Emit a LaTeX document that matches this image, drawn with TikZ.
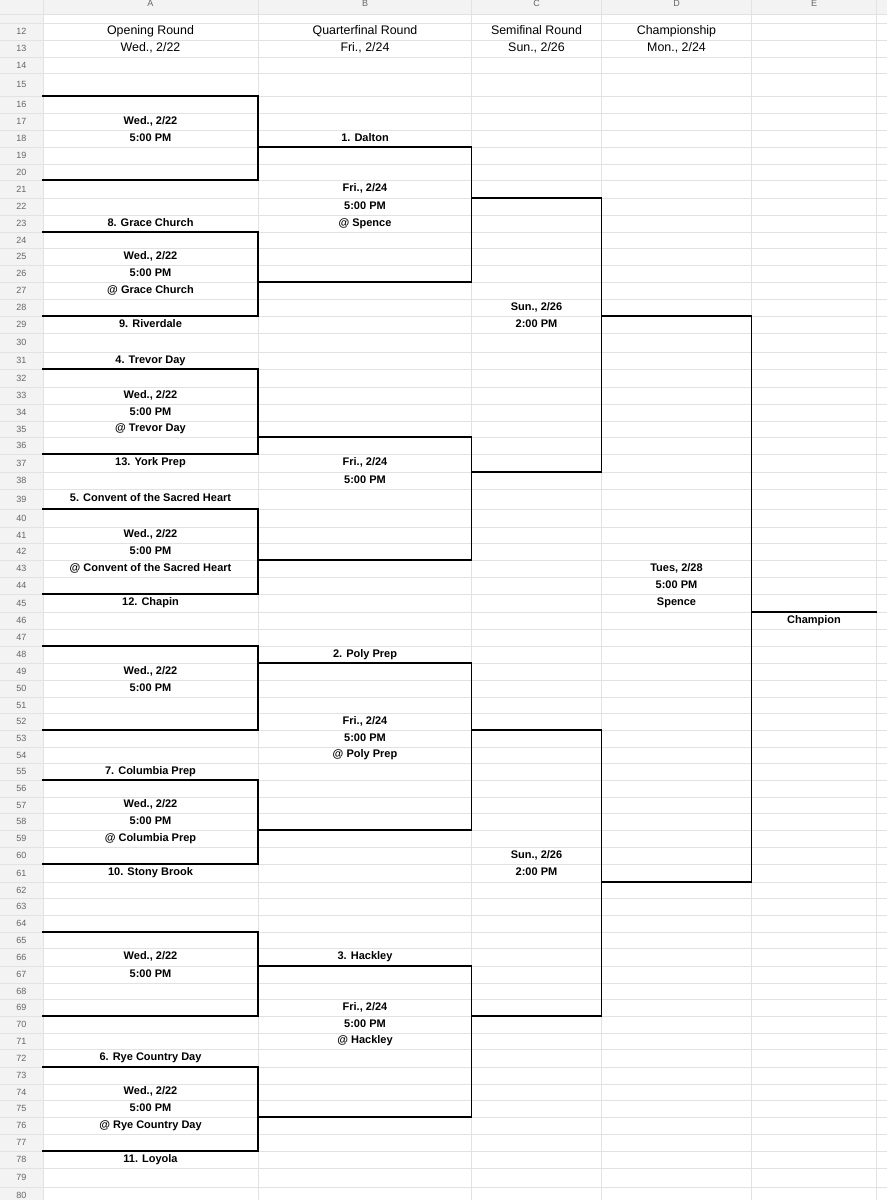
\documentclass[tikz,border=0pt]{standalone}
\usepackage{fontspec}
\setmainfont{Liberation Sans}
\usetikzlibrary{calc}
\definecolor{grid}{HTML}{E2E2E2}
\definecolor{hdr}{HTML}{F3F3F3}
\definecolor{num}{HTML}{666666}
\begin{document}
\begin{tikzpicture}[x=1pt,y=-1pt,
  br/.style={line width=1.7pt,line cap=rect},
  gl/.style={grid,line width=0.9pt},
  lbl/.style={font=\fontsize{11}{12}\selectfont\bfseries,inner sep=0pt,text height=8pt,text depth=2.2pt},
  head/.style={font=\fontsize{12.4}{13}\selectfont,inner sep=0pt,text height=9pt,text depth=2.5pt},
  rn/.style={font=\fontsize{9}{10}\selectfont,text=num,inner sep=0pt,text height=6.5pt,text depth=0pt}]
\useasboundingbox (0,0) rectangle (887,1200);
\fill[white] (0,0) rectangle (887,1200);
% columns
\coordinate (cR) at (0,0);
\coordinate (cA) at (43,0);
\coordinate (cB) at (258,0);
\coordinate (cC) at (471.5,0);
\coordinate (cD) at (601.5,0);
\coordinate (cE) at (751.5,0);
\coordinate (cF) at (876,0);
\coordinate (xA) at (150.5,0);
\coordinate (xB) at (365,0);
\coordinate (xC) at (536.5,0);
\coordinate (xD) at (676.5,0);
\coordinate (xE) at (814,0);
% header backgrounds
\fill[hdr] (0,0) rectangle (887,14);
\fill[hdr] (0,0) rectangle (43,1200);
% rows
\foreach \k/\t/\c in {12/23/31.5,13/40/48.5,14/57/65,15/73/84.5,16/96/104.5,17/113/121.5,18/130/138.5,19/147/155.5,20/164/172,21/180/189,22/198/206.5,23/215/223.5,24/232/240,25/248/256.5,26/265/273.5,27/282/290.5,28/299/307.5,29/316/324.5,30/333/342.5,31/352/360.5,32/369/378,33/387/395.5,34/404/412.5,35/421/429,36/437/445.5,37/454/463,38/472/480.5,39/489/499,40/509/518,41/527/535,42/543/551.5,43/560/568.5,44/577/585.5,45/594/603,46/612/620.5,47/629/637.5,48/646/654.5,49/663/671.5,50/680/688.5,51/697/705,52/713/721.5,53/730/738.5,54/747/755,55/763/771.5,56/780/788.5,57/797/805,58/813/821.5,59/830/838.5,60/847/855.5,61/864/873,62/882/890,63/898/906.5,64/915/923.5,65/932/940,66/948/957,67/966/974.5,68/983/991,69/999/1007.5,70/1016/1024.5,71/1033/1041,72/1049/1058,73/1067/1075.5,74/1084/1092,75/1100/1108.5,76/1117/1125.5,77/1134/1142.5,78/1151/1159.5,79/1168/1177.5,80/1187/1195.5}{
  \coordinate (r\k) at (0,\t);
  \coordinate (m\k) at (0,\c);
  \draw[gl] (0,\t) -- (887,\t);
  \node[rn] (n\k) at (21.5,\c) {\k};
}
\coordinate (r81) at (0,1204);
\draw[gl] (0,14) -- (887,14);
\foreach \x in {43,258,471.5,601.5,751.5,876} \draw[gl] (\x,0) -- (\x,1200);
% column letters
\foreach \p/\l in {xA/A,xB/B,xC/C,xD/D,xE/E} \node[rn] at ($(\p)+(0,3)$) {\l};
% headings
\node[head] (h1) at (xA |- m12) {Opening Round};
\node[head] (h2) at (xB |- m12) {Quarterfinal Round};
\node[head] (h3) at (xC |- m12) {Semifinal Round};
\node[head] (h4) at (xD |- m12) {Championship};
\node[head] (d1) at (xA |- m13) {Wed., 2/22};
\node[head] (d2) at (xB |- m13) {Fri., 2/24};
\node[head] (d3) at (xC |- m13) {Sun., 2/26};
\node[head] (d4) at (xD |- m13) {Mon., 2/24};
% brackets
\foreach \a/\b in {16/21,24/29,32/37,40/45,48/53,56/61,65/70,73/78}
  \draw[br] (cA |- r\a) -| (cB |- r\b) -- (cA |- r\b);
\foreach \a/\b in {19/27,36/43,49/59,67/76}
  \draw[br] (cB |- r\a) -| (cC |- r\b) -- (cB |- r\b);
\foreach \a/\b in {22/38,53/70}
  \draw[br] (cC |- r\a) -| (cD |- r\b) -- (cC |- r\b);
\draw[br] (cD |- r29) -| (cE |- r62) -- (cD |- r62);
\draw[br] (cE |- r46) -- (cF |- r46);
% labels
\foreach \p/\r/\t in {
 xA/17/{Wed., 2/22},xA/18/{5:00 PM},
 xA/23/{8. Grace Church},xA/25/{Wed., 2/22},xA/26/{5:00 PM},xA/27/{@ Grace Church},xA/29/{9. Riverdale},
 xA/31/{4. Trevor Day},xA/33/{Wed., 2/22},xA/34/{5:00 PM},xA/35/{@ Trevor Day},xA/37/{13. York Prep},
 xA/39/{5. Convent of the Sacred Heart},xA/41/{Wed., 2/22},xA/42/{5:00 PM},xA/43/{@ Convent of the Sacred Heart},xA/45/{12. Chapin},
 xA/49/{Wed., 2/22},xA/50/{5:00 PM},
 xA/55/{7. Columbia Prep},xA/57/{Wed., 2/22},xA/58/{5:00 PM},xA/59/{@ Columbia Prep},xA/61/{10. Stony Brook},
 xA/66/{Wed., 2/22},xA/67/{5:00 PM},
 xA/72/{6. Rye Country Day},xA/74/{Wed., 2/22},xA/75/{5:00 PM},xA/76/{@ Rye Country Day},xA/78/{11. Loyola},
 xB/18/{1. Dalton},xB/21/{Fri., 2/24},xB/22/{5:00 PM},xB/23/{@ Spence},
 xB/37/{Fri., 2/24},xB/38/{5:00 PM},
 xB/48/{2. Poly Prep},xB/52/{Fri., 2/24},xB/53/{5:00 PM},xB/54/{@ Poly Prep},
 xB/66/{3. Hackley},xB/69/{Fri., 2/24},xB/70/{5:00 PM},xB/71/{@ Hackley},
 xC/28/{Sun., 2/26},xC/29/{2:00 PM},xC/60/{Sun., 2/26},xC/61/{2:00 PM},
 xD/43/{Tues, 2/28},xD/44/{5:00 PM},xD/45/{Spence},
 xE/46/{Champion}}
  \node[lbl] (t\p\r) at (\p |- m\r) {\t};
\end{tikzpicture}
\end{document}
